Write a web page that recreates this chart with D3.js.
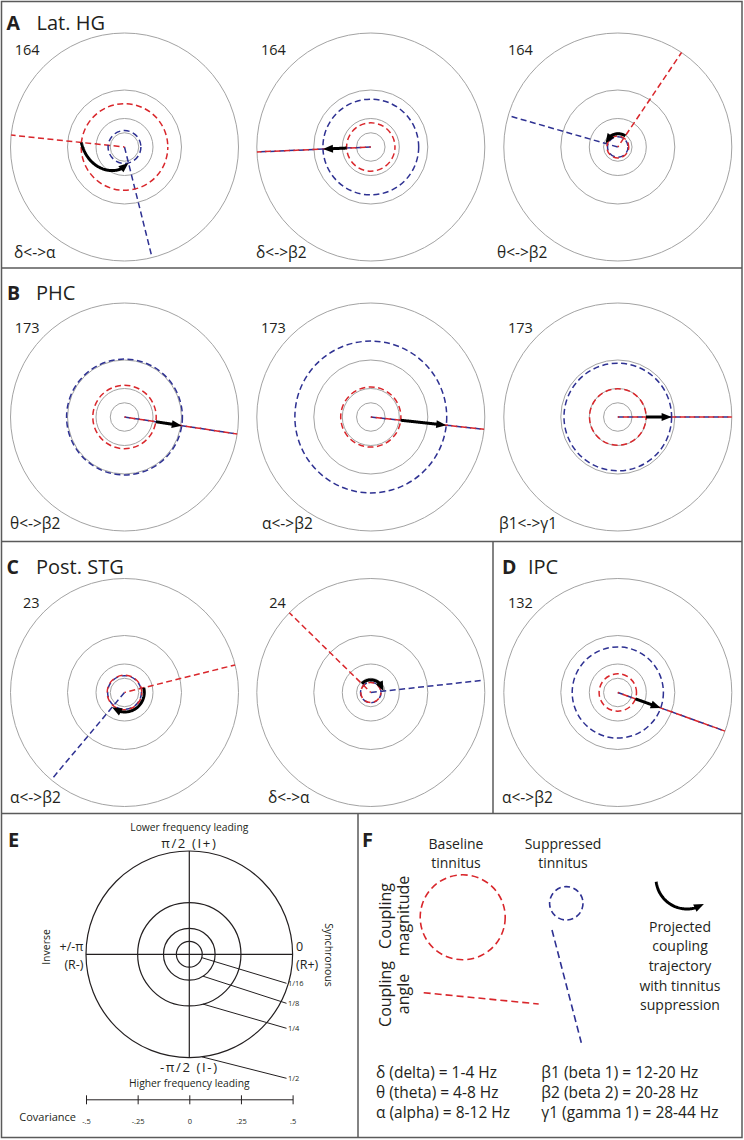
<!DOCTYPE html>
<html><head><meta charset="utf-8">
<script src="https://cdn.jsdelivr.net/npm/d3@7"></script>
<style>
body{margin:0;background:#fff}
svg{display:block}
text{font-family:"Open Sans",Lato,sans-serif;fill:#231f20}
</style>
</head><body>
<svg id="c" width="744" height="1140"></svg>
<script>
// ---------------- DATA ----------------
const panelLetters = ["A", "B", "C", "D", "E", "F"];
const panelTitles = ["Lat. HG", "PHC", "Post. STG", "IPC", "", ""];
const plotBands = ["δ<->α", "δ<->β2", "θ<->β2", "θ<->β2", "α<->β2", "β1<->γ1", "α<->β2", "δ<->α", "α<->β2"];
const plotCounts = [164, 164, 164, 173, 173, 173, 23, 24, 132];
// coupling magnitude (covariance) and angle (degrees) for baseline and suppressed tinnitus
const baselineMagnitude = [0.190, 0.106, 0.048, 0.139, 0.132, 0.124, 0.076, 0.044, 0.082];
const suppressedMagnitude = [0.072, 0.210, 0.045, 0.254, 0.333, 0.236, 0.074, 0.045, 0.200];
const baselineAngle = [174, 182.5, 56, -8.6, -6.2, 0, 14, 135.6, -19.8];
const suppressedAngle = [284, 182.5, 164, -8.6, -6.2, 0, -130, 6.2, -19.8];
const ringValues = [1 / 16, 1 / 8, 1 / 4, 1 / 2];
const ringLabels = ["1/16", "1/8", "1/4", "1/2"];
const covTicks = [-0.5, -0.25, 0, 0.25, 0.5];
const covTickLabels = ["-.5", "-.25", "0", ".25", ".5"];
const bandLeft = ["δ (delta) = 1-4 Hz", "θ (theta) = 4-8 Hz", "α (alpha) = 8-12 Hz"];
const bandRight = ["β1 (beta 1) = 12-20 Hz", "β2 (beta 2) = 20-28 Hz", "γ1 (gamma 1) = 28-44 Hz"];
const projectedText = ["Projected", "coupling", "trajectory", "with tinnitus", "suppression"];

// ---------------- LAYOUT ----------------
const RED = "#d9262b", BLUE = "#2e3192", GRAY = "#a3a3a3", INK = "#231f20", FRAME = "#5a5a5a";
const colX = [124.5, 370.8, 617.8];
const rowY = [147, 417, 692.5];
const countY = [55, 333, 607.5];
const bandY = [258, 529, 803];
const bandX = [14, 256, 497, 10, 262, 499, 10, 268, 502];
const rScale = d3.scaleLinear().domain([0, 0.5]).range([0, 114]);
const toRad = d3.scaleLinear().domain([0, 180]).range([0, Math.PI]);

const svg = d3.select("#c");

function polar(r, deg) {
  const a = toRad(deg);
  return [r * Math.cos(a), -r * Math.sin(a)];
}

function drawArrow(g, pts, headLen = 8.5, headW = 8) {
  let acc = 0, i = pts.length - 1, base = pts[0];
  while (i > 0) {
    const [x1, y1] = pts[i], [x0, y0] = pts[i - 1];
    const d = Math.hypot(x1 - x0, y1 - y0);
    if (acc + d >= headLen) {
      const t = (headLen - acc) / d;
      base = [x1 + (x0 - x1) * t, y1 + (y0 - y1) * t];
      break;
    }
    acc += d; i--;
  }
  const linePts = pts.slice(0, i).concat([base]);
  g.append("path").attr("d", d3.line()(linePts)).attr("fill", "none")
    .attr("stroke", "#000").attr("stroke-width", 3);
  const tip = pts[pts.length - 1];
  const dx = tip[0] - base[0], dy = tip[1] - base[1], L = Math.hypot(dx, dy);
  const nx = -dy / L, ny = dx / L;
  const bx = base[0] - dx / L * 1.5, by = base[1] - dy / L * 1.5;
  g.append("path").attr("d", d3.line()([
    tip, [bx + nx * headW / 2, by + ny * headW / 2], [bx - nx * headW / 2, by - ny * headW / 2]
  ]) + "Z").attr("fill", "#000");
}

// ---------------- FRAMES ----------------
const frame = svg.append("g").attr("stroke", FRAME).attr("stroke-width", 1.5).attr("fill", "none");
frame.append("rect").attr("x", 1.5).attr("y", 1.5).attr("width", 740.5).attr("height", 1136);
[268, 541.5, 813.5].forEach(y => frame.append("line").attr("x1", 1.5).attr("x2", 742).attr("y1", y).attr("y2", y));
frame.append("line").attr("x1", 493).attr("x2", 493).attr("y1", 541.5).attr("y2", 813.5);
frame.append("line").attr("x1", 358).attr("x2", 358).attr("y1", 813.5).attr("y2", 1137.5);

// panel titles
const titlePos = [[6.5, 30, 36.5], [7, 299.5, 36], [6.5, 574, 36], [502, 574, 528]];
titlePos.forEach(([x, y, tx], k) => {
  svg.append("text").attr("x", x).attr("y", y).attr("font-size", 19.5).attr("font-weight", 700).text(panelLetters[k]);
  svg.append("text").attr("x", tx).attr("y", y).attr("font-size", 20).text(panelTitles[k]);
});

// ---------------- POLAR PLOTS ----------------
plotBands.forEach((band, i) => {
  const row = Math.floor(i / 3), col = i % 3;
  const cx = colX[col], cy = rowY[row];
  const g = svg.append("g").attr("transform", `translate(${cx},${cy})`);
  ringValues.forEach(v => g.append("circle").attr("r", rScale(v)).attr("fill", "none")
    .attr("stroke", GRAY).attr("stroke-width", 1));
  const outer = rScale(0.5);
  const sEnd = polar(outer, suppressedAngle[i]), bEnd = polar(outer, baselineAngle[i]);
  g.append("line").attr("x2", sEnd[0]).attr("y2", sEnd[1]).attr("stroke", BLUE)
    .attr("stroke-width", 1.5).attr("stroke-dasharray", "6,3.5");
  g.append("line").attr("x2", bEnd[0]).attr("y2", bEnd[1]).attr("stroke", RED)
    .attr("stroke-width", 1.5).attr("stroke-dasharray", "6,3.5").attr("stroke-dashoffset", 4.5);
  g.append("circle").attr("r", rScale(suppressedMagnitude[i])).attr("fill", "none").attr("stroke", BLUE)
    .attr("stroke-width", 1.5).attr("stroke-dasharray", "6,3.5");
  g.append("circle").attr("r", rScale(baselineMagnitude[i])).attr("fill", "none").attr("stroke", RED)
    .attr("stroke-width", 1.5).attr("stroke-dasharray", "6,3.5").attr("stroke-dashoffset", 3);
  const small = Math.max(baselineMagnitude[i], suppressedMagnitude[i]) < 0.09;
  const off = small ? 2.5 : 0;
  const N = 80, pts = [];
  for (let k = 0; k <= N; k++) {
    const t = k / N;
    const r = rScale(baselineMagnitude[i] + t * (suppressedMagnitude[i] - baselineMagnitude[i])) + off;
    const a = baselineAngle[i] + t * (suppressedAngle[i] - baselineAngle[i]);
    pts.push(polar(r, a));
  }
  drawArrow(g, pts);
  svg.append("text").attr("x", cx - 85).attr("y", countY[row]).attr("text-anchor", "end")
    .attr("font-size", 14.5).text(plotCounts[i]);
  svg.append("text").attr("x", bandX[i]).attr("y", bandY[row]).attr("font-size", 15.5).text(band);
});

// ---------------- PANEL E ----------------
const ecx = 189.3, ecy = 954.3;
const rE = d3.scaleLinear().domain([0, 0.5]).range([0, 103.3]);
const gE = svg.append("g").attr("transform", `translate(${ecx},${ecy})`);
ringValues.forEach(v => gE.append("circle").attr("r", rE(v)).attr("fill", "none")
  .attr("stroke", INK).attr("stroke-width", 1.2));
gE.append("line").attr("x1", -rE(0.5)).attr("x2", rE(0.5)).attr("stroke", INK).attr("stroke-width", 1.2);
gE.append("line").attr("y1", -rE(0.5)).attr("y2", rE(0.5)).attr("stroke", INK).attr("stroke-width", 1.2);
const leaderAngle = [-15, -58, -74.6, -83];
const leaderY = [983.3, 1003.3, 1028.3, 1078.3];
ringValues.forEach((v, k) => {
  const p = polar(rE(v), leaderAngle[k]);
  svg.append("line").attr("x1", ecx + p[0]).attr("y1", ecy + p[1]).attr("x2", 286.5).attr("y2", leaderY[k])
    .attr("stroke", INK).attr("stroke-width", 1);
  svg.append("text").attr("x", 288).attr("y", leaderY[k] + 2.8).attr("font-size", 7.5).text(ringLabels[k]);
});
svg.append("text").attr("x", 8).attr("y", 846.7).attr("font-size", 20).attr("font-weight", 700).text(panelLetters[4]);
svg.append("text").attr("x", 362).attr("y", 846.7).attr("font-size", 20).attr("font-weight", 700).text(panelLetters[5]);
const eTexts = [
  ["Lower frequency leading", ecx, 830.8, "middle", 10.3, 0],
  ["π/2 (I+)", ecx, 847.5, "middle", 13.2, 1.6],
  ["-π/2 (I-)", ecx, 1071.7, "middle", 13.2, 1.6],
  ["Higher frequency leading", ecx, 1087.2, "middle", 10.3, 0],
  ["+/-π", 83.5, 951, "end", 12.5, 0],
  ["(R-)", 83.5, 969, "end", 12.5, 0],
  ["0", 296, 951, "start", 12.5, 0],
  ["(R+)", 296, 969, "start", 12.5, 0]
];
eTexts.forEach(([t, x, y, a, s, ls]) => svg.append("text").attr("x", x).attr("y", y)
  .attr("text-anchor", a).attr("font-size", s).attr("letter-spacing", ls).text(t));
svg.append("text").attr("transform", "translate(46,947) rotate(-90)").attr("text-anchor", "middle")
  .attr("dy", "0.35em").attr("font-size", 10.5).text("Inverse");
svg.append("text").attr("transform", "translate(328.5,955) rotate(90)").attr("text-anchor", "middle")
  .attr("dy", "0.35em").attr("font-size", 10.5).text("Synchronous");
const cov = d3.scaleLinear().domain([-0.5, 0.5]).range([ecx - rE(0.5), ecx + rE(0.5)]);
const axis = svg.append("g").attr("transform", "translate(0,1099.3)")
  .call(d3.axisBottom(cov).tickValues(covTicks).tickFormat((d, k) => covTickLabels[k]).tickSize(5).tickSizeOuter(0));
axis.select(".domain").attr("stroke", INK).attr("stroke-width", 1);
axis.selectAll(".tick line").attr("y1", -4).attr("y2", 5).attr("stroke", INK);
axis.selectAll(".tick text").attr("y", 25).attr("dy", 0).attr("font-size", 7.5)
  .attr("font-family", "'Open Sans', sans-serif").attr("fill", INK);
svg.append("text").attr("x", 76).attr("y", 1121).attr("text-anchor", "end").attr("font-size", 11).text("Covariance");

// ---------------- PANEL F ----------------
[["Baseline", 456, 848.7], ["tinnitus", 456, 868.3], ["Suppressed", 563, 848.7], ["tinnitus", 563, 868.3]]
  .forEach(([t, x, y]) => svg.append("text").attr("x", x).attr("y", y).attr("text-anchor", "middle")
    .attr("font-size", 14).text(t));
svg.append("circle").attr("cx", 462.7).attr("cy", 917.3).attr("r", 42.5).attr("fill", "none")
  .attr("stroke", RED).attr("stroke-width", 1.6).attr("stroke-dasharray", "7,4");
svg.append("circle").attr("cx", 566.3).attr("cy", 903.3).attr("r", 16.7).attr("fill", "none")
  .attr("stroke", BLUE).attr("stroke-width", 1.6).attr("stroke-dasharray", "6,3.5");
svg.append("line").attr("x1", 423.7).attr("y1", 992.7).attr("x2", 538.7).attr("y2", 1004)
  .attr("stroke", RED).attr("stroke-width", 1.6).attr("stroke-dasharray", "7,4");
svg.append("line").attr("x1", 552).attr("y1", 930).attr("x2", 581.3).attr("y2", 1042.7)
  .attr("stroke", BLUE).attr("stroke-width", 1.6).attr("stroke-dasharray", "7,4");
[["Coupling", 385.3, 916], ["magnitude", 403.7, 916], ["Coupling", 385.3, 994], ["angle", 403.7, 994]]
  .forEach(([t, x, y]) => svg.append("text").attr("transform", `translate(${x},${y}) rotate(-90)`)
    .attr("text-anchor", "middle").attr("dy", "0.35em").attr("font-size", 16).text(t));
{
  const g = svg.append("g").attr("transform", "translate(687,878)");
  const pts = [];
  for (let k = 0; k <= 60; k++) pts.push(polar(31, 187 + k / 60 * (303 - 187)));
  drawArrow(g, pts);
}
projectedText.forEach((t, k) => svg.append("text").attr("x", 680).attr("y", 931.7 + k * 19.6)
  .attr("text-anchor", "middle").attr("font-size", 14).text(t));
bandLeft.forEach((t, k) => svg.append("text").attr("x", 376).attr("y", 1077.7 + k * 20).attr("font-size", 15.5).text(t));
bandRight.forEach((t, k) => svg.append("text").attr("x", 541.3).attr("y", 1077.7 + k * 20).attr("font-size", 15.5).text(t));
</script>
</body></html>
